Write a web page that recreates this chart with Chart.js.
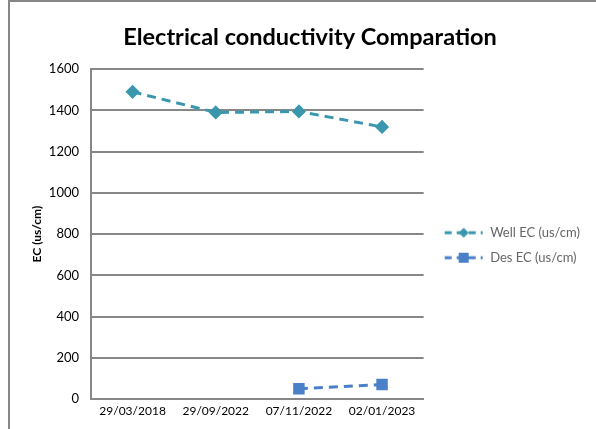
<!DOCTYPE html>
<html>
<head>
<meta charset="utf-8">
<script src="https://cdn.jsdelivr.net/npm/chart.js@4.4.1/dist/chart.umd.min.js"></script>
<style>
  html, body { margin: 0; padding: 0; background: #fff; }
  #wrap { position: relative; width: 596px; height: 429px; }
</style>
</head>
<body>
<div id="wrap"><canvas id="grafico" width="596" height="429"></canvas></div>
<script>
// datos
var fechas = ['29/03/2018', '29/09/2022', '07/11/2022', '02/01/2023'];
var ecPozo = [1490, 1390, 1395, 1320];
var ecDes = [null, null, 50, 70];
var ticksY = [0, 200, 400, 600, 800, 1000, 1200, 1400, 1600];

var colorPozo = '#3a97ae';
var colorDes = '#4a80c8';
var gris = '#878787';
var fuente = "Lato, 'Open Sans', sans-serif";

// muestra de leyenda: linea discontinua con el marcador (con margen a la izquierda)
function muestraLeyenda(color, forma){
    var c = document.createElement('canvas');
    c.width = 48; c.height = 14;
    var g = c.getContext('2d');
    g.strokeStyle = color;
    g.lineWidth = 3;
    g.setLineDash([7, 5]);
    g.beginPath();
    g.moveTo(9, 7); g.lineTo(47, 7);
    g.stroke();
    g.fillStyle = color;
    if(forma == 'rombo'){
        g.beginPath();
        g.moveTo(28, 2); g.lineTo(33, 7); g.lineTo(28, 12); g.lineTo(23, 7);
        g.closePath();
        g.fill();
    }else{
        g.fillRect(23, 2, 10, 10);
    }
    return c;
}

var borde = {
    id: 'borde',
    beforeDraw: function(chart){
        var ctx = chart.ctx;
        ctx.save();
        ctx.strokeStyle = gris;
        ctx.lineWidth = 2;
        ctx.beginPath();
        ctx.moveTo(9, 440);
        ctx.lineTo(9, 1);
        ctx.lineTo(600, 1);
        ctx.stroke();
        ctx.restore();
    }
};

var ctx = document.getElementById('grafico').getContext('2d');
var chart = new Chart(ctx, {
    type: 'line',
    data: {
        labels: fechas,
        datasets: [{
            label: 'Well EC (us/cm)',
            data: ecPozo,
            borderColor: colorPozo,
            backgroundColor: colorPozo,
            borderWidth: 3,
            borderDash: [9, 6],
            pointStyle: 'rectRot',
            pointRadius: 5,
            pointHoverRadius: 5,
            tension: 0
        }, {
            label: 'Des EC (us/cm)',
            data: ecDes,
            borderColor: colorDes,
            backgroundColor: colorDes,
            borderWidth: 3,
            borderDash: [9, 6],
            pointStyle: 'rect',
            pointRadius: 6,
            pointHoverRadius: 6,
            tension: 0
        }]
    },
    options: {
        responsive: false,
        animation: false,
        layout: { padding: { left: 30, top: 0, right: 6, bottom: 0 } },
        plugins: {
            title: {
                display: true,
                text: 'Electrical conductivity Comparation',
                color: '#000',
                font: { family: fuente, size: 23.5, weight: 'bold' },
                padding: { top: 23, bottom: 18 }
            },
            legend: {
                position: 'right',
                align: 'start',
                maxWidth: 220,
                title: {
                    display: true,
                    text: ' ',
                    font: { size: 1 },
                    padding: { top: 213, bottom: 0 }
                },
                labels: {
                    color: '#000',
                    font: { family: fuente, size: 13 },
                    usePointStyle: true,
                    pointStyleWidth: 48,
                    padding: 12,
                    generateLabels: function(c){
                        return c.data.datasets.map(function(ds, i){
                            return {
                                text: ds.label,
                                pointStyle: muestraLeyenda(ds.borderColor, i == 0 ? 'rombo' : 'cuadro'),
                                fillStyle: ds.borderColor,
                                strokeStyle: ds.borderColor,
                                lineWidth: 0,
                                datasetIndex: i,
                                hidden: false
                            };
                        });
                    }
                }
            },
            tooltip: { enabled: false }
        },
        scales: {
            x: {
                offset: true,
                grid: { display: false, drawTicks: false },
                border: { display: true, color: gris, width: 2 },
                ticks: { color: '#000', font: { family: fuente, size: 12 }, padding: 5, maxRotation: 0 },
                afterFit: function(axis){ axis.height = 30; }
            },
            y: {
                min: 0,
                max: 1600,
                afterBuildTicks: function(axis){
                    axis.ticks = ticksY.map(function(v){ return { value: v }; });
                },
                grid: { color: gris, lineWidth: 2, drawTicks: false },
                border: { display: true, color: gris, width: 2 },
                ticks: {
                    color: '#000',
                    font: { family: fuente, size: 13 },
                    padding: 12,
                    callback: function(v){ return String(v); }
                },
                title: {
                    display: true,
                    text: 'EC (us/cm)',
                    color: '#000',
                    font: { family: fuente, size: 12, weight: 'bold' },
                    padding: { top: 0, bottom: 0 }
                },
                afterFit: function(axis){ axis.width = 61; }
            }
        }
    },
    plugins: [borde]
});
</script>
</body>
</html>
